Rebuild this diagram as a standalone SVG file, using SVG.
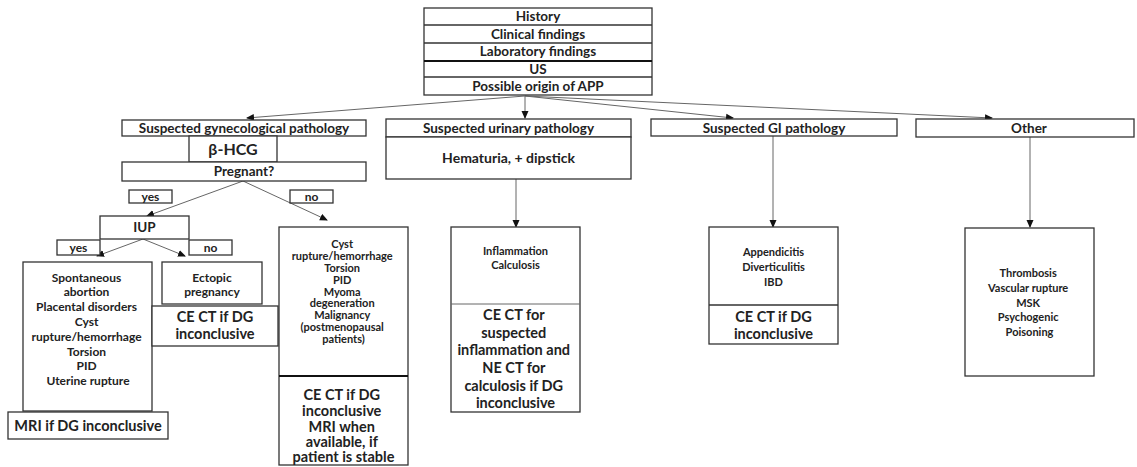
<svg xmlns="http://www.w3.org/2000/svg" width="1137" height="467" viewBox="0 0 1137 467">
<style>
.b{fill:#fff;stroke:#333;stroke-width:1.3}
.t{font-family:Lato,"Liberation Sans",sans-serif;font-weight:bold;fill:#222;text-anchor:middle}
.s13{font-size:13.5px}.s11{font-size:11px}.s12{font-size:12px}.s15{font-size:14.5px}
.c{stroke:#666;stroke-width:1;fill:none;marker-end:url(#ah)}
</style>
<defs>
<marker id="ah" markerWidth="8" markerHeight="8" refX="7" refY="4" orient="auto" markerUnits="userSpaceOnUse">
<path d="M0,0.5 L8,4 L0,7.5 Z" fill="#111"/>
</marker>
</defs>
<rect width="1137" height="467" fill="#fff"/>
<g id="connectors">
<line class="c" x1="525" y1="96" x2="247" y2="118"/>
<line class="c" x1="525" y1="96" x2="525" y2="118"/>
<line class="c" x1="525" y1="96" x2="733" y2="118"/>
<line class="c" x1="525" y1="96" x2="992" y2="118"/>
<line class="c" x1="243" y1="181" x2="147" y2="216"/>
<line class="c" x1="243" y1="181" x2="327" y2="220"/>
<line class="c" x1="143" y1="239" x2="97" y2="256"/>
<line class="c" x1="143" y1="239" x2="185" y2="256"/>
<line class="c" x1="516" y1="179" x2="516" y2="227"/>
<line class="c" x1="773" y1="136" x2="773" y2="227"/>
<line class="c" x1="1030" y1="137" x2="1030" y2="227"/>
</g>
<g id="top">
<rect class="b" x="424" y="8" width="228" height="87"/>
<line x1="424" y1="25" x2="652" y2="25" stroke="#333" stroke-width="1.3"/>
<line x1="424" y1="43" x2="652" y2="43" stroke="#333" stroke-width="1.3"/>
<line x1="424" y1="61" x2="652" y2="61" stroke="#111" stroke-width="2"/>
<line x1="424" y1="77" x2="652" y2="77" stroke="#333" stroke-width="1.3"/>
<text class="t s13" x="538" y="21">History</text>
<text class="t s13" x="538" y="38.5">Clinical findings</text>
<text class="t s13" x="538" y="56">Laboratory findings</text>
<text class="t s13" x="538" y="73.5">US</text>
<text class="t s13" x="538" y="90.5">Possible origin of APP</text>
</g>
<g id="gyn">
<rect class="b" x="122" y="120" width="244" height="16"/>
<text class="t s13" x="244" y="132.5">Suspected gynecological pathology</text>
<rect class="b" x="189" y="136" width="88" height="26"/>
<text class="t" style="font-size:16px" x="233" y="155">β-HCG</text>
<rect class="b" x="122" y="162" width="244" height="19"/>
<text class="t s13" x="244" y="176">Pregnant?</text>
</g>
<g id="yes1"><rect class="b" x="129" y="190" width="43" height="13"/><text class="t s12" x="150.5" y="201">yes</text></g>
<g id="no1"><rect class="b" x="290" y="190" width="43" height="13"/><text class="t s12" x="311.5" y="201">no</text></g>
<g id="iup">
<rect class="b" x="100" y="216" width="89" height="23"/>
<text class="t s13" x="144.5" y="232">IUP</text>
</g>
<g id="yes2"><rect class="b" x="57" y="240" width="43" height="15"/><text class="t s12" x="78.5" y="252">yes</text></g>
<g id="no2"><rect class="b" x="189" y="240" width="43" height="15"/><text class="t s12" x="210.5" y="252">no</text></g>
<g id="iupyes">
<rect class="b" x="23" y="262" width="129" height="149"/>
<text class="t s12" x="88">
<tspan x="88" y="281.5">Spontaneous</tspan>
<tspan x="88" y="296.3">abortion</tspan>
<tspan x="88" y="311.1">Placental disorders</tspan>
<tspan x="88" y="325.9">Cyst</tspan>
<tspan x="88" y="340.7">rupture/hemorrhage</tspan>
<tspan x="88" y="355.5">Torsion</tspan>
<tspan x="88" y="370.3">PID</tspan>
<tspan x="88" y="385.1">Uterine rupture</tspan>
</text>
</g>
<g id="mri">
<rect class="b" x="8" y="412" width="160" height="27"/>
<text class="t s15" x="88" y="431">MRI if DG inconclusive</text>
</g>
<g id="ectopic">
<rect class="b" x="162" y="262" width="100" height="42"/>
<text class="t s12"><tspan x="212" y="281.5">Ectopic</tspan><tspan x="212" y="296.3">pregnancy</tspan></text>
</g>
<g id="ectopicct">
<rect class="b" x="152" y="306" width="126" height="40"/>
<text class="t s15"><tspan x="215" y="322">CE CT if DG</tspan><tspan x="215" y="339">inconclusive</tspan></text>
</g>
<g id="notpregnant">
<rect class="b" x="279" y="227" width="129" height="238"/>
<line x1="279" y1="376" x2="408" y2="376" stroke="#111" stroke-width="2.2"/>
<text class="t s11">
<tspan x="343.5" y="248">Cyst</tspan>
<tspan x="343.5" y="260">rupture/hemorrhage</tspan>
<tspan x="343.5" y="272">Torsion</tspan>
<tspan x="343.5" y="283.5">PID</tspan>
<tspan x="343.5" y="295.5">Myoma</tspan>
<tspan x="343.5" y="307">degeneration</tspan>
<tspan x="343.5" y="319">Malignancy</tspan>
<tspan x="343.5" y="331">(postmenopausal</tspan>
<tspan x="343.5" y="342.5">patients)</tspan>
</text>
<text class="t s15">
<tspan x="343.5" y="400">CE CT if DG</tspan>
<tspan x="343.5" y="416">inconclusive</tspan>
<tspan x="343.5" y="431.5">MRI when</tspan>
<tspan x="343.5" y="447">available, if</tspan>
<tspan x="343.5" y="462">patient is stable</tspan>
</text>
</g>
<g id="urinary">
<rect class="b" x="386" y="119" width="245" height="18"/>
<text class="t s13" x="508.5" y="132.5">Suspected urinary pathology</text>
<rect class="b" x="386" y="137" width="245" height="42"/>
<text class="t" style="font-size:14px" x="508.5" y="163">Hematuria, + dipstick</text>
</g>
<g id="urinaryresult">
<rect class="b" x="451" y="227" width="129" height="185"/>
<line x1="451" y1="304" x2="580" y2="304" stroke="#666" stroke-width="1"/>
<text class="t s11"><tspan x="515.5" y="255">Inflammation</tspan><tspan x="515.5" y="269">Calculosis</tspan></text>
<text class="t s15">
<tspan x="515.5" y="319.5">CE CT for</tspan>
<tspan x="515.5" y="337.5">suspected</tspan>
<tspan x="515.5" y="354.5">inflammation and</tspan>
<tspan x="515.5" y="372.5">NE CT for</tspan>
<tspan x="515.5" y="391">calculosis if DG</tspan>
<tspan x="515.5" y="408">inconclusive</tspan>
</text>
</g>
<g id="gi">
<rect class="b" x="651" y="119" width="246" height="17"/>
<text class="t s13" x="774" y="132.5">Suspected GI pathology</text>
</g>
<g id="giresult">
<rect class="b" x="709" y="227" width="129" height="117"/>
<line x1="709" y1="305" x2="838" y2="305" stroke="#333" stroke-width="1.5"/>
<text class="t s11"><tspan x="773.5" y="256">Appendicitis</tspan><tspan x="773.5" y="271">Diverticulitis</tspan><tspan x="773.5" y="286">IBD</tspan></text>
<text class="t s15"><tspan x="773.5" y="322">CE CT if DG</tspan><tspan x="773.5" y="339">inconclusive</tspan></text>
</g>
<g id="other">
<rect class="b" x="916" y="119" width="218" height="18"/>
<text class="t s13" x="1029" y="132.5">Other</text>
</g>
<g id="otherresult">
<rect class="b" x="965" y="228" width="129" height="148"/>
<text class="t s11">
<tspan x="1029.5" y="277">Thrombosis</tspan>
<tspan x="1029.5" y="292">Vascular rupture</tspan>
<tspan x="1029.5" y="307">MSK</tspan>
<tspan x="1029.5" y="321">Psychogenic</tspan>
<tspan x="1029.5" y="336">Poisoning</tspan>
</text>
</g>
</svg>
